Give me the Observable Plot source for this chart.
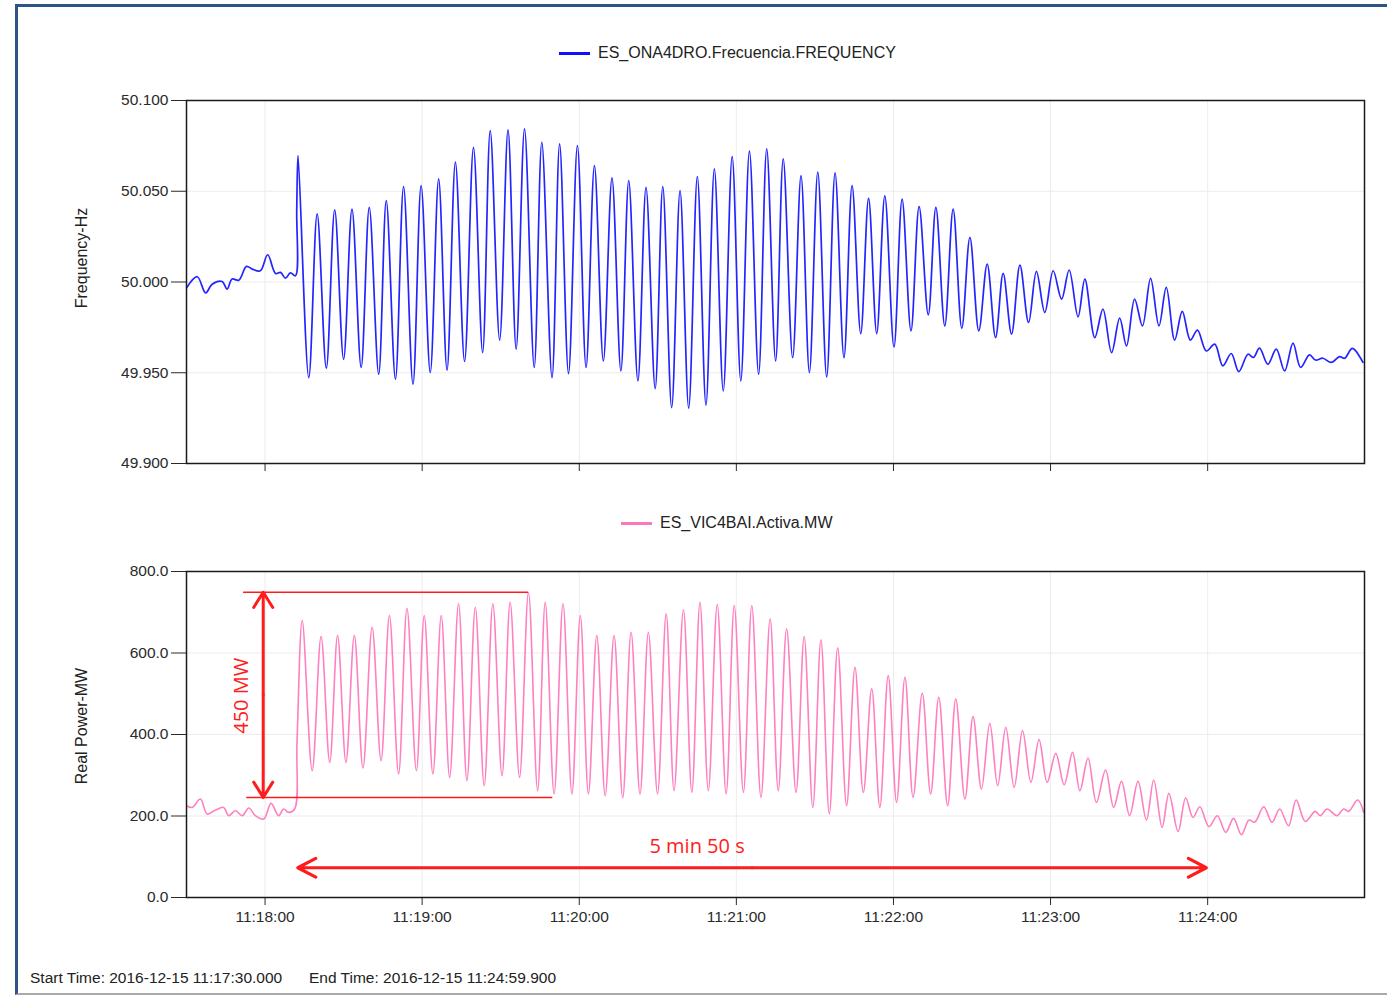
<!DOCTYPE html>
<html><head><meta charset="utf-8">
<script src="https://cdn.jsdelivr.net/npm/d3@7"></script>
<script src="https://cdn.jsdelivr.net/npm/@observablehq/plot@0.6"></script>
<style>
body{margin:0;background:#fff;width:1387px;height:997px;overflow:hidden;position:relative;font-family:'Liberation Sans',Arial,sans-serif;}
#frame{position:absolute;left:15px;top:4px;width:1380px;height:986px;border-left:3px solid #2d5487;border-top:3px solid #2d5487;border-bottom:2px solid #a9a9a9;}
.panel{position:absolute;left:0;}
.panel svg{overflow:visible;display:block;}
.legend{position:absolute;height:20px;line-height:20px;display:flex;align-items:center;font-size:16px;color:#222;white-space:nowrap;}
.swatch{width:31px;height:0;border-top:3px solid;margin-right:8px;}
.ylab{position:absolute;font-size:16px;color:#222;transform:translate(-50%,-50%) rotate(-90deg);white-space:nowrap;}
.foot{position:absolute;top:969px;font-size:15.5px;color:#222;white-space:nowrap;}
</style></head>
<body>
<div id="frame"></div>
<div class="legend" style="left:559px;top:43px;"><span class="swatch" style="border-color:#1010ff"></span><span>ES_ONA4DRO.Frecuencia.FREQUENCY</span></div>
<div class="legend" style="left:621px;top:513px;"><span class="swatch" style="border-color:#ff77bb"></span><span>ES_VIC4BAI.Activa.MW</span></div>
<div class="ylab" style="left:82px;top:258px;">Frequency-Hz</div>
<div class="ylab" style="left:82px;top:726px;">Real Power-MW</div>
<div id="top" class="panel" style="top:90px"></div>
<div id="bottom" class="panel" style="top:560px"></div>
<div class="foot" style="left:30px;">Start Time: 2016-12-15 11:17:30.000</div>
<div class="foot" style="left:309px;">End Time: 2016-12-15 11:24:59.900</div>
<script>
// ---- data (seconds after 11:17:30) ----
const freqSec = [0.0,4.1,7.3,9.8,13.6,15.5,17.4,20.0,22.9,25.1,28.2,31.0,34.0,35.9,37.8,39.7,41.6,42.1,42.6,
46.7,49.9,53.4,56.6,60.0,63.2,66.7,69.8,73.4,76.3,79.8,82.9,86.5,89.6,93.1,96.3,99.5,102.7,106.2,109.6,
113.1,116.0,119.6,122.8,125.9,129.1,132.8,135.7,139.6,142.5,145.9,149.3,152.6,155.8,159.2,162.5,165.9,168.9,
172.4,175.5,179.0,181.9,185.3,188.5,191.8,195.1,198.4,201.6,205.0,208.4,211.7,215.0,218.5,221.6,225.0,227.9,
231.5,234.7,237.9,241.1,244.5,247.7,251.1,254.2,257.5,260.5,263.6,266.7,270.2,273.3,276.7,279.8,283.3,286.2,
289.6,292.8,296.1,299.2,302.6,305.8,309.0,311.9,315.1,318.3,321.6,324.6,327.8,331.0,334.2,337.1,340.5,343.1,
346.9,350.0,353.3,356.4,359.0,362.1,365.1,368.2,371.4,374.2,377.4,380.3,383.4,386.1,389.5,392.7,395.8,399.0,
401.9,405.4,407.5,409.8,413.0,416.2,419.4,422.6,425.5,428.9,431.2,434.0,437.2,440.4,442.3,445.3,449.3];
const freqHz = [49.9967,50.0029,49.9940,49.9988,50.0003,49.9961,50.0016,50.0010,50.0086,50.0071,50.0062,50.0150,50.0047,50.0053,50.0021,50.0050,50.0034,50.0400,50.0697,
49.9473,50.0375,49.9525,50.0398,49.9574,50.0402,49.9529,50.0411,49.9492,50.0448,49.9465,50.0525,49.9437,50.0531,49.9501,50.0568,49.9514,50.0660,49.9562,50.0742,
49.9611,50.0834,49.9680,50.0838,49.9630,50.0844,49.9529,50.0770,49.9473,50.0761,49.9495,50.0752,49.9529,50.0641,49.9565,50.0574,49.9510,50.0559,
49.9455,50.0522,49.9413,50.0525,49.9308,50.0503,49.9305,50.0581,49.9322,50.0623,49.9400,50.0691,49.9455,50.0721,49.9492,50.0734,49.9565,50.0679,
49.9583,50.0586,49.9501,50.0605,49.9477,50.0601,49.9583,50.0531,49.9716,50.0461,49.9716,50.0474,49.9642,50.0457,49.9731,50.0415,49.9819,50.0411,
49.9758,50.0402,49.9745,50.0246,49.9731,50.0099,49.9694,50.0047,49.9713,50.0093,49.9777,50.0059,49.9832,50.0062,49.9906,50.0066,49.9808,50.0016,
49.9694,49.9851,49.9611,49.9801,49.9648,49.9906,49.9758,50.0020,49.9758,49.9970,49.9680,49.9838,49.9680,49.9735,49.9620,49.9658,49.9538,49.9606,
49.9506,49.9602,49.9584,49.9636,49.9547,49.9630,49.9510,49.9663,49.9529,49.9598,49.9570,49.9580,49.9557,49.9589,49.9580,49.9634,49.9557];

const powSec = [0.0,2.2,5.3,7.9,11.1,14.2,16.1,18.7,21.3,23.8,26.3,29.5,32.3,35.2,37.1,39.0,41.3,42.2,44.2,
48.0,51.4,54.7,57.7,60.9,64.1,67.4,70.9,74.3,77.5,81.0,84.2,87.8,90.8,94.1,97.3,100.5,103.9,107.1,110.3,113.7,
117.0,120.5,123.6,127.2,130.6,134.1,137.0,140.4,143.8,147.2,150.4,153.5,156.7,159.9,163.3,166.6,169.8,173.2,
176.4,179.9,183.2,186.2,189.8,193.0,196.1,199.3,202.7,206.1,209.2,212.7,215.9,219.4,222.9,226.0,229.2,232.8,
235.9,239.2,242.3,245.5,248.7,252.1,255.3,258.5,261.7,264.8,268.0,271.2,274.4,277.5,281.0,284.2,287.3,290.7,
293.8,297.3,300.4,303.6,306.8,309.8,312.9,316.1,319.3,322.5,325.6,328.7,332.0,335.2,338.4,341.2,344.3,347.5,
351.0,354.1,357.1,360.2,363.4,366.6,369.4,372.6,375.2,378.7,381.6,384.4,387.0,390.5,393.7,396.9,399.9,402.9,
405.8,408.0,411.4,414.6,417.5,420.9,423.8,427.3,431.1,433.0,435.6,439.4,441.9,443.8,447.3,449.6];
const powMW = [225.3,221.0,241.7,204.9,214.7,221.0,200.7,213.0,200.7,219.6,200.7,192.6,230.9,200.7,217.1,208.8,217.1,380.7,679.7,
311.2,640.4,331.6,642.8,331.6,642.8,317.9,663.2,335.8,692.0,303.1,709.9,311.2,692.0,303.1,692.0,294.8,720.7,286.7,712.4,274.4,
720.7,298.9,724.6,294.8,749.2,262.1,724.6,254.0,720.7,254.0,692.0,254.0,642.8,249.8,642.8,244.2,651.0,254.0,
651.0,254.0,696.1,262.1,706.0,258.0,724.6,262.1,719.0,254.0,716.5,258.0,716.5,245.6,683.9,262.1,659.3,258.0,
640.4,221.1,632.3,204.9,612.6,225.3,565.0,258.0,512.0,221.1,544.6,233.4,540.4,245.6,501.1,254.0,491.3,225.3,
487.3,241.7,443.9,266.3,427.4,274.4,417.6,270.2,409.5,282.5,387.4,282.5,353.7,276.8,356.2,262.1,342.4,233.4,
312.9,221.1,284.9,200.7,284.9,190.1,288.4,171.9,255.5,162.1,244.2,196.5,222.8,173.7,200.7,159.7,194.1,154.0,
190.1,185.0,222.8,184.2,217.1,176.1,239.2,186.7,211.3,200.7,217.1,200.7,217.1,211.3,239.2,208.8];

const xTickLabels = ["11:18:00","11:19:00","11:20:00","11:21:00","11:22:00","11:23:00","11:24:00"];
const freqTickLabels = ["49.900","49.950","50.000","50.050","50.100"];
const powTickLabels = ["0.0","200.0","400.0","600.0","800.0"];

// annotation values (MW / seconds)
const spanMW = [749.2, 245.6];
const spanFrom = [21.8, 23.0];
const spanTo = [130.6, 139.9];
const spanArrowSec = 29.3;
const durArrowMW = 73;
const durFrom = 42.5, durTo = 389.5;

// ---- build ----
const T0 = Date.UTC(2016, 11, 15, 11, 17, 30);
const toDate = s => new Date(T0 + s * 1000);
const parseTick = d3.utcParse("%Y-%m-%d %H:%M:%S");
const xTicks = xTickLabels.map(l => parseTick("2016-12-15 " + l));
const xLabelMap = new Map(xTicks.map((d, i) => [+d, xTickLabels[i]]));
const freqTicks = freqTickLabels.map(Number);
const freqMap = new Map(freqTicks.map((d, i) => [d, freqTickLabels[i]]));
const powTicks = powTickLabels.map(Number);
const powMap = new Map(powTicks.map((d, i) => [d, powTickLabels[i]]));

const freqData = freqSec.map((s, i) => ({date: toDate(s), v: freqHz[i]}));
const powData = powSec.map((s, i) => ({date: toDate(s), v: powMW[i]}));
const xDomain = [toDate(0), toDate(449.9)];

const RED = "#ff1c1c";
const GRID = "#ececec";
const common = {
  width: 1387,
  marginLeft: 186, marginRight: 23,
  x: {type: "utc", domain: xDomain},
  style: {fontFamily: "'Liberation Sans', Arial, sans-serif", fontSize: "15.5px", color: "#2a2a2a", background: "transparent", overflow: "visible"}
};

const topPlot = Plot.plot({
  ...common,
  height: 390, marginTop: 10, marginBottom: 17,
  y: {domain: [49.9, 50.1]},
  marks: [
    Plot.gridX(xTicks, {stroke: GRID, strokeOpacity: 1}),
    Plot.gridY(freqTicks, {stroke: GRID, strokeOpacity: 1}),
    Plot.axisY(freqTicks, {tickSize: 15, tickPadding: 3, tickFormat: d => freqMap.get(d), label: null}),
    Plot.axisX(xTicks, {tickSize: 8, tickFormat: () => "", label: null}),
    Plot.line(freqData, {x: "date", y: "v", stroke: "#2424ff", strokeWidth: 1.7, curve: "catmull-rom", clip: true}),
    Plot.frame({stroke: "#1a1a1a", strokeWidth: 1.5})
  ]
});
document.getElementById("top").appendChild(topPlot);

const spans = spanMW.map((v, i) => ({y: v, x1: toDate(spanFrom[i]), x2: toDate(spanTo[i])}));
const spanMid = (spanMW[0] + spanMW[1]) / 2;
const vArrows = spanMW.map(v => ({x1: toDate(spanArrowSec), y1: spanMid, x2: toDate(spanArrowSec), y2: v}));
const durMid = (durFrom + durTo) / 2;
const hArrows = [durFrom, durTo].map(s => ({x1: toDate(durMid), y1: durArrowMW, x2: toDate(s), y2: durArrowMW}));
const labels = [
  {x: toDate(21), y: 495, text: "450 MW", rotate: -90},
  {x: toDate(195), y: 124.5, text: "5 min 50 s", rotate: 0}
];

const bottomPlot = Plot.plot({
  ...common,
  height: 380, marginTop: 11, marginBottom: 43,
  y: {domain: [0, 800]},
  marks: [
    Plot.gridX(xTicks, {stroke: GRID, strokeOpacity: 1}),
    Plot.gridY(powTicks, {stroke: GRID, strokeOpacity: 1}),
    Plot.axisY(powTicks, {tickSize: 15, tickPadding: 3, tickFormat: d => powMap.get(d), label: null}),
    Plot.axisX(xTicks, {tickSize: 8, tickPadding: 5, tickFormat: d => xLabelMap.get(+d), label: null}),
    Plot.line(powData, {x: "date", y: "v", stroke: "#ff7fbf", strokeWidth: 1.6, curve: "catmull-rom", clip: true}),
    Plot.ruleY(spans, {y: "y", x1: "x1", x2: "x2", stroke: RED, strokeWidth: 1.5}),
    Plot.arrow(vArrows, {x1: "x1", y1: "y1", x2: "x2", y2: "y2", stroke: RED, strokeWidth: 3, headLength: 9, headAngle: 64}),
    Plot.arrow(hArrows, {x1: "x1", y1: "y1", x2: "x2", y2: "y2", stroke: RED, strokeWidth: 3.2, headLength: 9.5, headAngle: 55}),
    Plot.text(labels.filter(d => d.rotate), {x: "x", y: "y", text: "text", rotate: -90, fill: RED, fontSize: 20, fontFamily: "'Open Sans', sans-serif"}),
    Plot.text(labels.filter(d => !d.rotate), {x: "x", y: "y", text: "text", fill: RED, fontSize: 20, fontFamily: "'Open Sans', sans-serif"}),
    Plot.frame({stroke: "#1a1a1a", strokeWidth: 1.5})
  ]
});
document.getElementById("bottom").appendChild(bottomPlot);
</script>
</body></html>
